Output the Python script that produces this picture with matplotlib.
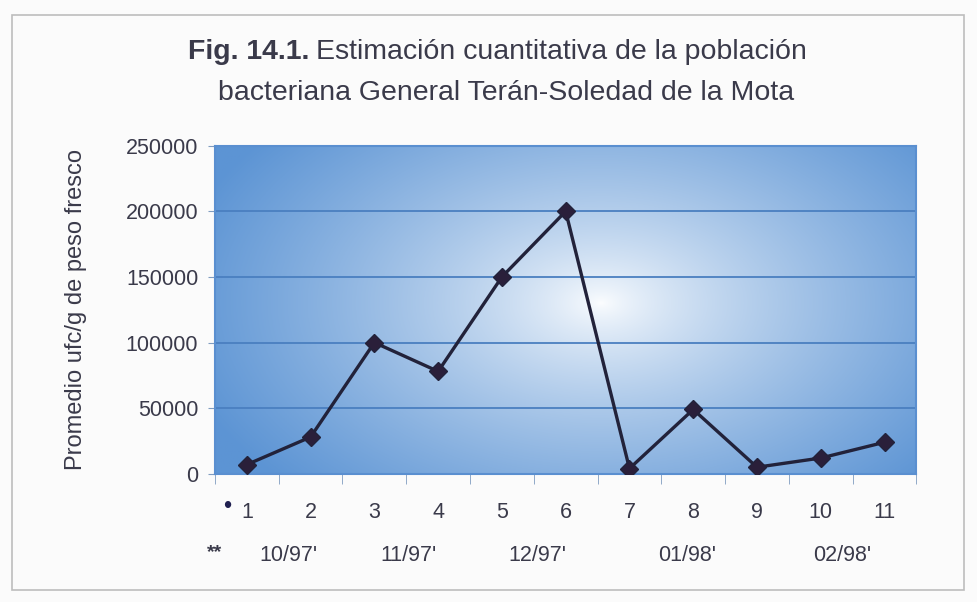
import numpy as np
import matplotlib.pyplot as plt
from matplotlib.patches import Rectangle

# ---- data ----
muestras = [1, 2, 3, 4, 5, 6, 7, 8, 9, 10, 11]
ufc = [7000, 28000, 100000, 78000, 150000, 200000, 4000, 49000, 5000, 12000, 24000]
meses = ["10/97'", "11/97'", "12/97'", "01/98'", "02/98'"]
meses_pos = [1.66, 3.54, 5.55, 7.91, 10.34]
yticks = [0, 50000, 100000, 150000, 200000, 250000]

plt.rcParams['font.family'] = ['Liberation Sans', 'DejaVu Sans']
txt = '#3a3a4a'

fig = plt.figure(figsize=(9.77, 6.02), dpi=100)
fig.patch.set_facecolor('#fbfbfb')
fig.patches.append(Rectangle((0.012, 0.02), 0.975, 0.955, transform=fig.transFigure,
                             fill=False, edgecolor='#bdbdbd', lw=1.2))

ax = fig.add_axes([0.220, 0.213, 0.718, 0.545])

# radial blue gradient background
gx, gy = np.meshgrid(np.linspace(0, 1, 400), np.linspace(0, 1, 300))
r = np.sqrt(((gx - 0.55) / 0.62) ** 2 + ((gy - 0.52) / 0.8) ** 2)
r = np.clip(r, 0, 1)
edge = np.array([92, 148, 212]) / 255
centre = np.array([253, 254, 255]) / 255
img = centre + (edge - centre) * (r[..., None] ** 0.75)
ax.imshow(img, extent=[0.5, 11.5, 0, 250000], aspect='auto', origin='lower', zorder=0)

ax.plot(muestras, ufc, color='#22223a', lw=2.4, marker='D', ms=9,
        markerfacecolor='#2a1f3a', markeredgecolor='#22223a', zorder=3)

ax.set_xlim(0.5, 11.5)
ax.set_ylim(0, 250000)
ax.set_yticks(yticks)
ax.set_yticklabels([str(v) for v in yticks], fontsize=15.5, color=txt)
for v in yticks[1:-1]:
    ax.axhline(v, color='#4a7fc0', lw=1.3, zorder=1)

ax.set_xticks(muestras)
ax.set_xticklabels([str(m) for m in muestras], fontsize=15.5, color=txt)
ax.set_xticks(np.arange(0.5, 12, 1), minor=True)
ax.tick_params(axis='x', which='major', length=0, pad=20)
ax.tick_params(axis='x', which='minor', length=7, color='#7f9cc0')
ax.tick_params(axis='y', length=5, color='#7f9cc0', pad=7)
for s in ax.spines.values():
    s.set_color('#5a8fd0')
    s.set_linewidth(1.5)

ax.set_ylabel('Promedio ufc/g de peso fresco', fontsize=17, color=txt, labelpad=28)

# second label row (months)
for lab, p in zip(meses, meses_pos):
    ax.annotate(lab, xy=(p, 0), xycoords=('data', 'axes fraction'), xytext=(0, -59),
                textcoords='offset points', ha='center', va='center', fontsize=15.5, color=txt)
ax.annotate('**', xy=(0.5, 0), xycoords=('data', 'axes fraction'), xytext=(0, -57),
            textcoords='offset points', ha='center', va='center', fontsize=14,
            color=txt, fontweight='bold')
ax.annotate('•', xy=(0.5, 0), xycoords=('data', 'axes fraction'), xytext=(9, -24),
            textcoords='offset points', ha='center', va='center', fontsize=17, color='#202050')

# title: bold figure number followed by normal text
t1 = fig.text(0.192, 0.913, 'Fig. 14.1.', fontsize=20.5, color=txt, fontweight='bold',
              ha='left', va='center')
fig.canvas.draw()
bb = t1.get_window_extent()
x_next = (bb.x1 + 7) / fig.bbox.width
fig.text(x_next, 0.913, 'Estimación cuantitativa de la población', fontsize=20.5, color=txt,
         ha='left', va='center')
fig.text(0.518, 0.845, 'bacteriana General Terán-Soledad de la Mota', fontsize=20.5, color=txt,
         ha='center', va='center')

fig.savefig('out.png', dpi=100, facecolor=fig.get_facecolor())
